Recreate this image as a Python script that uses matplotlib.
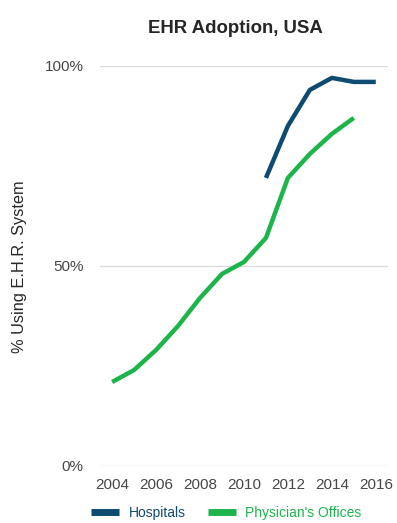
import matplotlib
matplotlib.use('Agg')
import matplotlib.pyplot as plt

plt.rcParams['font.family'] = ['Liberation Sans', 'DejaVu Sans']

# 연도별 EHR 도입률 (%)
years_hosp = [2011, 2012, 2013, 2014, 2015, 2016]
hospitals = [72, 85, 94, 97, 96, 96]

years_phys = [2004, 2005, 2006, 2007, 2008, 2009, 2010, 2011, 2012, 2013, 2014, 2015]
physicians = [21, 24, 29, 35, 42, 48, 51, 57, 72, 78, 83, 87]

xticks = [2004, 2006, 2008, 2010, 2012, 2014, 2016]
yticks = [0, 50, 100]
ylabels = ['0%', '50%', '100%']

blue = '#0f4a70'
green = '#1db54b'
grey = '#474747'

fig = plt.figure(figsize=(3.97, 5.23), dpi=100)
ax = fig.add_axes([0.252, 0.109, 0.725, 0.765])

for y in yticks:
	ax.axhline(y, color='#dcdcdc', lw=1, zorder=0)

ax.plot(years_hosp, hospitals, color=blue, lw=3.2, label='Hospitals', solid_capstyle='butt')
ax.plot(years_phys, physicians, color=green, lw=3.2, label="Physician's Offices", solid_capstyle='butt')

ax.set_xlim(2003.45, 2016.55)
ax.set_ylim(0, 100)
ax.set_xticks(xticks)
ax.set_yticks(yticks)
ax.set_yticklabels(ylabels)
ax.tick_params(length=0, labelsize=11, labelcolor=grey)
ax.tick_params(axis='x', pad=9)
ax.tick_params(axis='y', pad=12)
for s in ax.spines.values():
	s.set_visible(False)

ax.set_title('EHR Adoption, USA', fontsize=13.4, fontweight='bold', color='#262626', pad=24, x=0.47)
fig.text(0.05, 0.49, '% Using E.H.R. System', rotation=90, ha='center', va='center', fontsize=11.8, color='#262626')

fig.legend(loc='center', bbox_to_anchor=(0.57, 0.019), ncol=2, frameon=False,
	fontsize=10, labelcolor='linecolor', handlelength=2.0, columnspacing=1.6, handletextpad=0.7)
for h in fig.legends[0].legend_handles:
	h.set_linewidth(5)

fig.savefig('out.png', dpi=100)
